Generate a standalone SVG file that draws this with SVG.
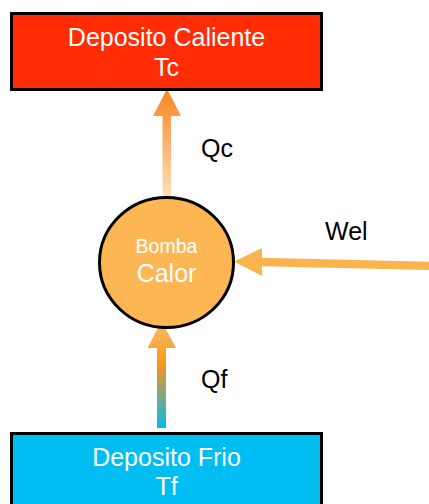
<svg xmlns="http://www.w3.org/2000/svg" width="429" height="504" viewBox="0 0 429 504">
<style>
text{font-family:"Liberation Sans",Arial,sans-serif;text-anchor:middle}
.w{fill:#fff;font-size:25px}
.b{fill:#000;font-size:25px;text-anchor:start}
.box{stroke:#000;stroke-width:3}
</style>
<defs>
<linearGradient id="gQc" x1="0" y1="1" x2="0" y2="0">
<stop offset="0" stop-color="#fde0bf"/>
<stop offset="1" stop-color="#f7861e"/>
</linearGradient>
<linearGradient id="gQf" gradientUnits="userSpaceOnUse" x1="0" y1="428" x2="0" y2="322">
<stop offset="0" stop-color="#00bce8"/>
<stop offset="0.6" stop-color="#f7961e"/>
<stop offset="1" stop-color="#fcbd69"/>
</linearGradient>
</defs>
<g id="connectors">
<path id="qc" d="M162.5 198 V116 H153 L167 89 L181 116 H171 V198 Z" fill="url(#gQc)"/>
<path id="wel" d="M429 261.8 L262 257.7 L262 248 L234 261.5 L262 276 L262 266.3 L429 270 Z" fill="#fbb34e"/>
<path id="qf" d="M157 428 V348 H147.5 L161.5 321 L176 348 H166 V428 Z" fill="url(#gQf)"/>
</g>
<g id="hot">
<rect class="box" x="11.5" y="13.5" width="310" height="76" fill="#ff2c06"/>
<text class="w" x="166.5" y="46">Deposito Caliente</text>
<text class="w" x="166.5" y="76">Tc</text>
</g>
<g id="pump">
<ellipse class="box" cx="166.5" cy="262.5" rx="67" ry="65" fill="#fdb654"/>
<text x="166.5" y="253" fill="#fff" font-size="19.5">Bomba</text>
<text class="w" x="166.5" y="282">Calor</text>
</g>
<g id="cold">
<rect class="box" x="11.5" y="433.5" width="310" height="80" fill="#00bdf2"/>
<text class="w" x="166.5" y="466">Deposito Frio</text>
<text class="w" x="166.5" y="495">Tf</text>
</g>
<g id="labels">
<text class="b" x="201" y="157">Qc</text>
<text class="b" x="325" y="240">Wel</text>
<text class="b" x="201" y="388">Qf</text>
</g>
</svg>
